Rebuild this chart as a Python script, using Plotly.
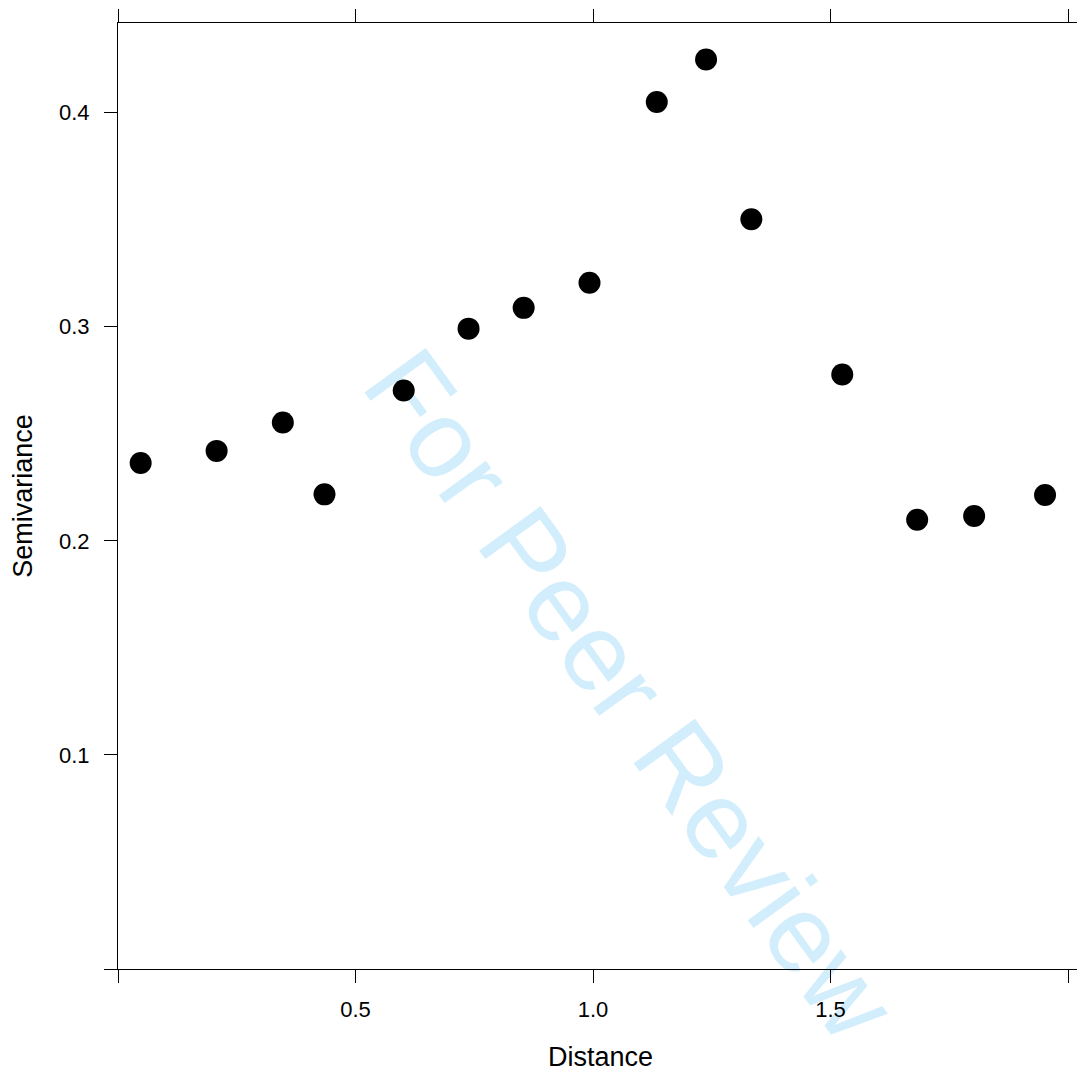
import plotly.graph_objects as go

# Data
distance = [0.0477, 0.2076, 0.347, 0.4347, 0.6015, 0.738, 0.854, 0.9926,
            1.1342, 1.238, 1.3333, 1.5247, 1.6824, 1.8023, 1.9516]
semivariance = [0.2363, 0.2420, 0.2553, 0.2217, 0.2702, 0.2991, 0.3088, 0.3205,
                0.4050, 0.4248, 0.3502, 0.2777, 0.2098, 0.2116, 0.2214]

x_tickvals = [0, 0.5, 1.0, 1.5, 2.0]
x_ticktext = ["", "0.5", "1.0", "1.5", ""]
y_tickvals = [0, 0.1, 0.2, 0.3, 0.4]
y_ticktext = ["", "0.1", "0.2", "0.3", "0.4"]

FONT = "Arial, 'Liberation Sans', sans-serif"

fig = go.Figure()
fig.add_trace(go.Scatter(
    x=distance, y=semivariance, mode="markers",
    marker=dict(color="black", size=22, line=dict(width=0)),
    showlegend=False, hoverinfo="x+y",
))

wx, wy = 0.540, 0.297
fig.add_shape(
    type="rect", xref="paper", yref="paper",
    x0=wx - 0.05, x1=wx + 0.05, y0=wy - 0.05, y1=wy + 0.05,
    line=dict(width=0), fillcolor="rgba(0,0,0,0)", layer="below",
    label=dict(text="For Peer Review", textangle=54, textposition="middle center",
               font=dict(size=110, family=FONT, color="rgb(210,238,252)")),
)

fig.update_layout(
    width=1077, height=1066,
    margin=dict(l=110, r=1, t=8, b=105),
    paper_bgcolor="white", plot_bgcolor="white",
    font=dict(family=FONT, color="black"),
    xaxis=dict(
        range=[0, 2.0315], tickvals=x_tickvals, ticktext=x_ticktext,
        ticks="outside", ticklen=13, tickwidth=1, tickcolor="black",
        showline=True, linecolor="black", linewidth=1, mirror="ticks",
        showgrid=False, zeroline=False, ticklabelstandoff=8,
        tickfont=dict(size=22, family=FONT),
        title=dict(text="Distance", font=dict(size=27, family=FONT), standoff=25),
    ),
    yaxis=dict(
        range=[0, 0.44186], tickvals=y_tickvals, ticktext=y_ticktext,
        ticks="outside", ticklen=13, tickwidth=1, tickcolor="black",
        showline=True, linecolor="black", linewidth=1, mirror=True,
        showgrid=False, zeroline=False, ticklabelstandoff=10,
        tickfont=dict(size=22, family=FONT),
        title=dict(text="Semivariance", font=dict(size=27, family=FONT), standoff=18),
    ),
)

fig.write_html("out.html")
